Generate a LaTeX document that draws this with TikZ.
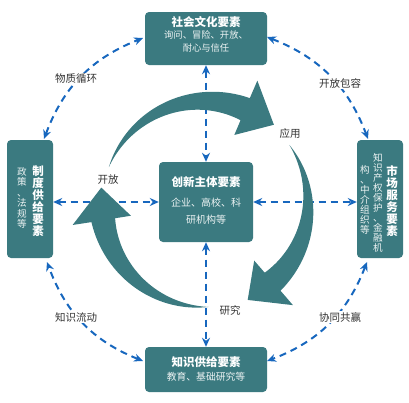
\documentclass[tikz,border=0pt]{standalone}
\usepackage{fontspec}
\setmainfont{Noto Sans CJK SC}
\usetikzlibrary{arrows.meta,calc}
\definecolor{teal1}{HTML}{3B7A80}
\definecolor{blue1}{HTML}{1767BE}
\definecolor{lbl}{HTML}{333333}
\definecolor{subw}{HTML}{EEF4F4}
\tikzset{
 box/.style={fill=teal1, rounded corners=4pt, inner sep=0pt},
 dline/.style={draw=blue1, line width=2pt, dash pattern=on 7pt off 5pt,
   {Stealth[length=9pt,width=8pt]}-{Stealth[length=9pt,width=8pt]}},
 ttl/.style={text=white, inner sep=0pt, font=\fontsize{11.5}{12}\selectfont\bfseries},
 sub/.style={text=subw, inner sep=0pt, align=center},
 lab/.style={text=lbl, inner sep=1pt, font=\fontsize{10.5}{12}\selectfont},
 olab/.style={text=lbl, fill=white, inner sep=1.5pt, font=\fontsize{10.5}{12}\selectfont},
}
\newcommand\cyclearrow[3]{%
\fill[teal1] plot[domain=0:1,samples=60,variable=\s]
  ({\acx+(\acR+\acW*\s)*cos((#1)+\s*((#2)-(#1)))},{\acy-(\acR+\acW*\s)*sin((#1)+\s*((#2)-(#1)))})
 -- ({\acx+(\acR+31)*cos(#2)},{\acy-(\acR+31)*sin(#2)})
 -- ({\acx+(\acR+2)*cos(#3)},{\acy-(\acR+2)*sin(#3)})
 -- ({\acx+(\acR-28)*cos(#2)},{\acy-(\acR-28)*sin(#2)})
 -- plot[domain=0:1,samples=60,variable=\s]
  ({\acx+(\acR-\acW*(1-\s))*cos((#2)+\s*((#1)-(#2)))},{\acy-(\acR-\acW*(1-\s))*sin((#2)+\s*((#1)-(#2)))})
 -- cycle;}
\begin{document}
\begin{tikzpicture}[x=1pt,y=-1pt]
\useasboundingbox (0,0) rectangle (409,402);
\def\acx{205}\def\acy{204}\def\acR{103}\def\acW{12}

% boxes
\node[box, minimum width=122pt, minimum height=53pt] (T) at (206,38.5) {};
\node[box, minimum width=122pt, minimum height=45pt] (B) at (206,369.5) {};
\node[box, minimum width=94pt, minimum height=80pt] (C) at (206,202) {};
\node[box, minimum width=46pt, minimum height=118pt] (L) at (30,199) {};
\node[box, minimum width=46pt, minimum height=118pt] (R) at (380,199) {};

% straight dashed connectors
\draw[dline] (T.south -| C.north) -- (C.north);
\draw[dline] (C.south) -- (B.north -| C.south);
\draw[dline] (L.east |- C.west) -- (C.west);
\draw[dline] (C.east) -- (R.west |- C.east);

% arc connectors
\coordinate (l1) at (44,139);
\coordinate (t1) at (143,38);
\coordinate (t2) at (267,37);
\coordinate (r1) at (368,139);
\coordinate (r2) at (367,262);
\coordinate (b2) at (267,361);
\coordinate (b1) at (143,361);
\coordinate (l2) at (47,262);
\draw[dline] (l1) to[bend left=24] (t1);
\draw[dline] (t2) to[bend left=24] (r1);
\draw[dline] (r2) to[bend left=24] (b2);
\draw[dline] (b1) to[bend left=24] (l2);

% outer labels
\node[olab] (m1) at (76,79) {物质循环};
\node[olab] (m2) at (340,83) {开放包容};
\node[olab] (m3) at (76,317) {知识流动};
\node[olab] (m4) at (340,317) {协同共赢};

% cycle arrows
\cyclearrow{159}{67}{49}
\cyclearrow{35}{-49}{-66}
\cyclearrow{-88}{-171}{-189}

% cycle labels
\node[lab] (k1) at (108,180) {开放};
\node[lab] (k2) at (290,134) {应用};
\node[lab] (k3) at (230,310) {研究};

% box texts
\node[ttl] (Tt) at (206,22) {社会文化要素};
\node[sub, font=\fontsize{9.3}{13}\selectfont] (Ts) at (206,41.5) {询问、冒险、开放、\\耐心与信任};
\node[ttl] (Ct) at (206,182) {创新主体要素};
\node[sub, font=\fontsize{10}{17}\selectfont] (Cs) at (206,211.5) {企业、高校、科\\研机构等};
\node[ttl] (Bt) at (206,362) {知识供给要素};
\node[sub, font=\fontsize{9.8}{12}\selectfont] (Bs) at (206,377) {教育、基础研究等};
\node[ttl, align=center, font=\fontsize{11.5}{12}\selectfont\bfseries] (Lt) at (38,201) {制\\度\\供\\给\\要\\素};
\node[sub, font=\fontsize{9.6}{10.5}\selectfont] (Ls) at (22,198) {政\\策\\、\\法\\规\\等};
\node[ttl, align=center, font=\fontsize{11.5}{12}\selectfont\bfseries] (Rt) at (392,201) {市\\场\\服\\务\\要\\素};
\node[sub, font=\fontsize{9.6}{10}\selectfont] (Rs1) at (378,203) {知\\识\\产\\权\\保\\护\\、\\金\\融\\机};
\node[sub, font=\fontsize{9.6}{10}\selectfont] (Rs2) at (365,200) {构\\、\\中\\介\\组\\织\\等};
\end{tikzpicture}
\end{document}
